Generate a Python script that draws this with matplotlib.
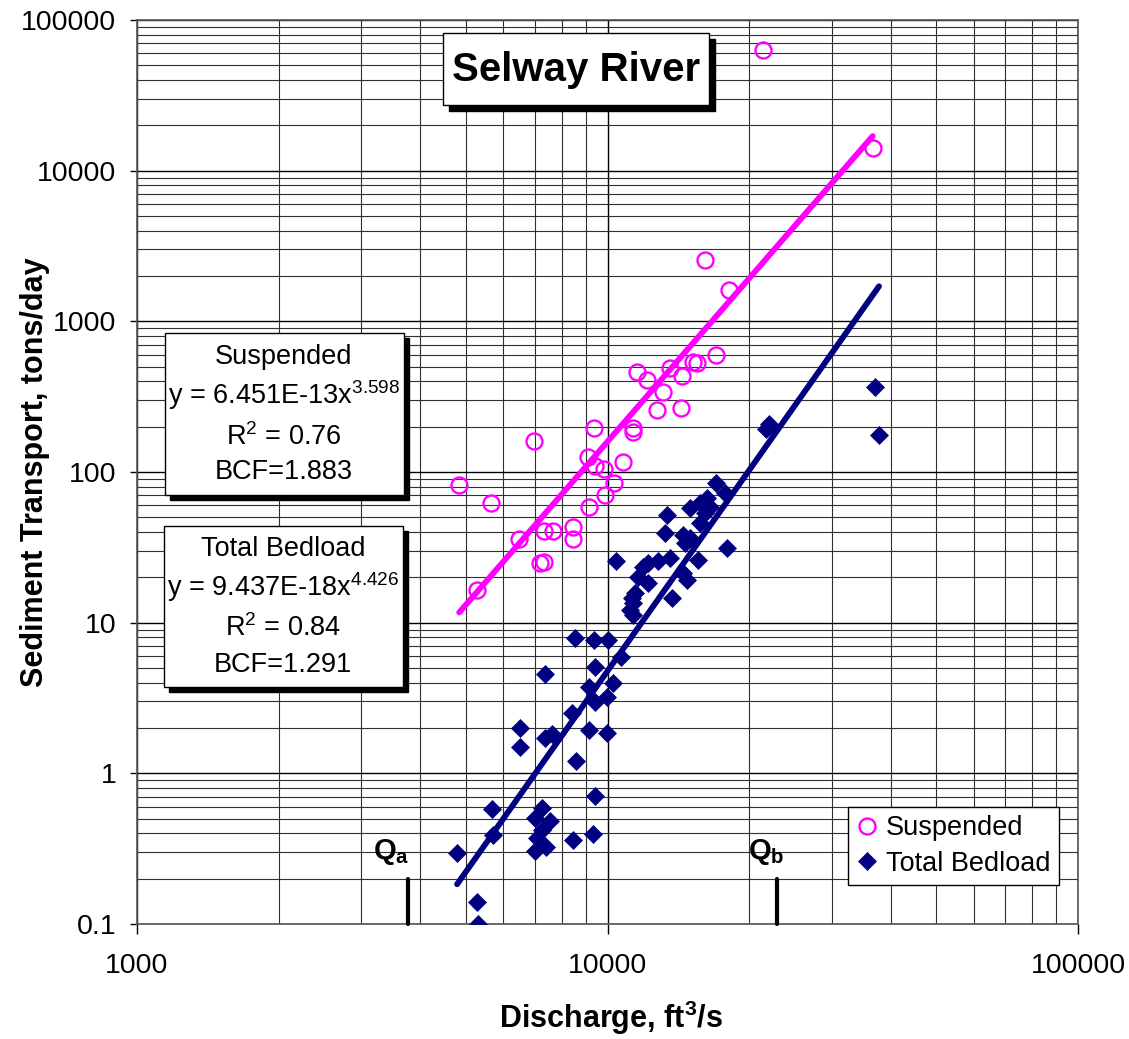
import numpy as np
import matplotlib
matplotlib.use('Agg')
import matplotlib.pyplot as plt
from matplotlib.patches import Rectangle
from matplotlib.ticker import LogLocator, FuncFormatter, NullFormatter

plt.rcParams['font.family'] = ['Liberation Sans', 'DejaVu Sans']
plt.rcParams['mathtext.fontset'] = 'custom'
plt.rcParams['mathtext.rm'] = 'Liberation Sans'
plt.rcParams['mathtext.it'] = 'Liberation Sans:italic'
plt.rcParams['mathtext.bf'] = 'Liberation Sans:bold'

# suspended sediment samples: discharge (ft3/s), load (tons/day)
susp_q = [4840, 5270, 5660, 6490, 6990, 7190, 7330, 7340, 7650, 8430, 8460,
          9100, 9140, 9380, 9410, 9840, 9880, 10320, 10770, 11310, 11310,
          11540, 12120, 12720, 13100, 13580, 14310, 14420, 15220, 15470,
          16110, 17010, 18130, 21400, 36610]
susp_t = [82, 16.5, 62, 36, 161, 24.8, 25.4, 40.8, 40.8, 35.8, 43.4,
          126, 58.3, 195, 110, 105, 70, 84, 116, 195, 185,
          463, 408, 258, 341, 488, 265, 434, 540, 526,
          2550, 598, 1610, 63200, 14080]

# total bedload samples
bed_q = [4790, 5280, 5310, 5680, 5710, 6520, 6520, 7370, 7620, 7260, 7010,
         7550, 7260, 7080, 7400, 7010, 8450, 9320, 9410, 8570, 8400, 9130,
         9980, 7370, 8530, 9360, 10030, 10680, 9410, 10270, 9130, 9980, 9410,
         11440, 11280, 11330, 11170, 11330, 10420, 11900, 12190, 12810, 13580,
         11610, 12190, 14470, 14760, 13710, 15570, 13380, 13260, 14470, 14980,
         14610, 15730, 17950, 17010, 17770, 16280, 15730, 14980, 16520, 16110,
         21720, 22040, 37020, 37760]
bed_t = [0.296, 0.140, 0.100, 0.580, 0.390, 2.0, 1.50, 1.72, 1.82, 0.589, 0.505,
         0.483, 0.421, 0.372, 0.324, 0.305, 0.361, 0.396, 0.708, 1.21, 2.51, 1.94,
         1.85, 4.56, 7.91, 7.67, 7.67, 5.92, 5.08, 3.98, 3.74, 3.21, 2.98,
         15.7, 14.6, 13.5, 12.1, 11.2, 25.7, 23.4, 24.9, 25.7, 26.9,
         20.1, 18.3, 21.4, 19.2, 14.6, 26.1, 51.8, 39.4, 38.2, 36.5,
         33.8, 45.9, 31.3, 84.5, 72.6, 67.2, 62.3, 57.7, 58.6, 53.5,
         193, 208, 368, 176]

# power-law fits given in the chart
susp_coef, susp_exp, susp_r2, susp_bcf = 6.451e-13, 3.598, 0.76, 1.883
bed_coef, bed_exp, bed_r2, bed_bcf = 9.437e-18, 4.426, 0.84, 1.291

# Qa / Qb discharge markers
qa, qb = 3770, 22960
q_bottom, q_top = 0.1, 0.2

W, H = 1129, 1039
fig = plt.figure(figsize=(W / 100, H / 100), dpi=100)
ax = fig.add_axes([137 / W, 1 - 924 / H, (1078 - 137) / W, (924 - 20) / H])


def fp(x, y):
    """pixel position -> figure fraction"""
    return x / W, 1 - y / H


ax.set_xscale('log')
ax.set_yscale('log')
ax.set_xlim(1000, 100000)
ax.set_ylim(0.1, 100000)

for a in (ax.xaxis, ax.yaxis):
    a.set_major_locator(LogLocator(base=10, numticks=20))
    a.set_minor_locator(LogLocator(base=10, subs=np.arange(2, 10), numticks=20))
    a.set_major_formatter(FuncFormatter(lambda v, p: '%g' % v))
    a.set_minor_formatter(NullFormatter())

ax.grid(which='major', color='black', lw=1.0)
ax.grid(which='minor', color='#303030', lw=0.8)
ax.set_axisbelow(True)
ax.tick_params(which='minor', length=0)
ax.tick_params(axis='x', which='major', length=7, width=1, pad=14, labelsize=20.5)
ax.tick_params(axis='y', which='major', length=5, width=1, pad=10, labelsize=20.5)
for s in ax.spines.values():
    s.set_color('#555555')
    s.set_linewidth(1.2)

# data
ax.plot(susp_q, susp_t, 'o', ms=11.5, mfc='none', mec='#FF00FF', mew=1.7,
        label='Suspended', zorder=3)
ax.plot(bed_q, bed_t, 'D', ms=9, color='#000080', mec='#000080', mew=0.5,
        label='Total Bedload', zorder=3)

# trend lines
qs = np.logspace(np.log10(min(susp_q)), np.log10(max(susp_q)), 50)
ax.plot(qs, susp_coef * qs ** susp_exp, color='#FF00FF', lw=4.2,
        solid_capstyle='round', zorder=4)
qb_line = np.logspace(np.log10(min(bed_q)), np.log10(max(bed_q)), 50)
ax.plot(qb_line, bed_coef * qb_line ** bed_exp, color='#000080', lw=4.2,
        solid_capstyle='round', zorder=4)

# Qa / Qb marks
for q, lab, dx in ((qa, r'$\mathbf{Q_a}$', 1), (qb, r'$\mathbf{Q_b}$', 5)):
    ax.plot([q, q], [q_bottom, q_top], color='black', lw=3.0,
            solid_capstyle='round', clip_on=False, zorder=5)
    ax.annotate(lab, xy=(q, 0.30), xytext=(dx, 0), textcoords='offset points',
                ha='right', va='center', fontsize=21, zorder=5)

leg = ax.legend(loc='upper left', bbox_to_anchor=fp(848, 807),
                bbox_transform=fig.transFigure, borderaxespad=0,
                fancybox=False, framealpha=1, edgecolor='black',
                fontsize=19.5, handlelength=0.8, handletextpad=0.3,
                borderpad=0.3, labelspacing=0.35)
leg.get_frame().set_linewidth(1.0)
leg.set_zorder(6)


def shadow_box(x0, y0, x1, y1, off=5):
    fig.add_artist(Rectangle(fp(x0 + off, y1 + off), (x1 - x0) / W, (y1 - y0) / H,
                             transform=fig.transFigure, fc='black', ec='black',
                             zorder=7))
    fig.add_artist(Rectangle(fp(x0, y1), (x1 - x0) / W, (y1 - y0) / H,
                             transform=fig.transFigure, fc='white', ec='black',
                             lw=1.0, zorder=8))


# title box
shadow_box(443, 33, 709, 105, off=6)
fig.text(*fp(576, 70), 'Selway River', ha='center', va='center',
         fontsize=29, fontweight='bold', zorder=9)

# equation boxes
shadow_box(165, 333, 404, 495)
box1 = ['Suspended',
        'y = %sx$^{%s}$' % ('6.451E-13', susp_exp),
        'R$^2$ = %.2f' % susp_r2,
        'BCF=%.3f' % susp_bcf]
for txt, yy in zip(box1, (357, 395, 437, 472)):
    fig.text(*fp(284, yy), txt, ha='center', va='center', fontsize=19.5, zorder=9)

shadow_box(164, 526, 403, 687)
box2 = ['Total Bedload',
        'y = %sx$^{%s}$' % ('9.437E-18', bed_exp),
        'R$^2$ = %.2f' % bed_r2,
        'BCF=%.3f' % bed_bcf]
for txt, yy in zip(box2, (549, 587, 628, 665)):
    fig.text(*fp(283, yy), txt, ha='center', va='center', fontsize=19.5, zorder=9)

# axis titles
fig.text(*fp(611, 1018), r'Discharge, ft$^{\mathbf{3}}$/s', ha='center',
         va='center', fontsize=22, fontweight='bold')
fig.text(*fp(35, 472), 'Sediment Transport, tons/day', ha='center',
         va='center', rotation=90, fontsize=22, fontweight='bold')

fig.savefig('out.png', dpi=100)
